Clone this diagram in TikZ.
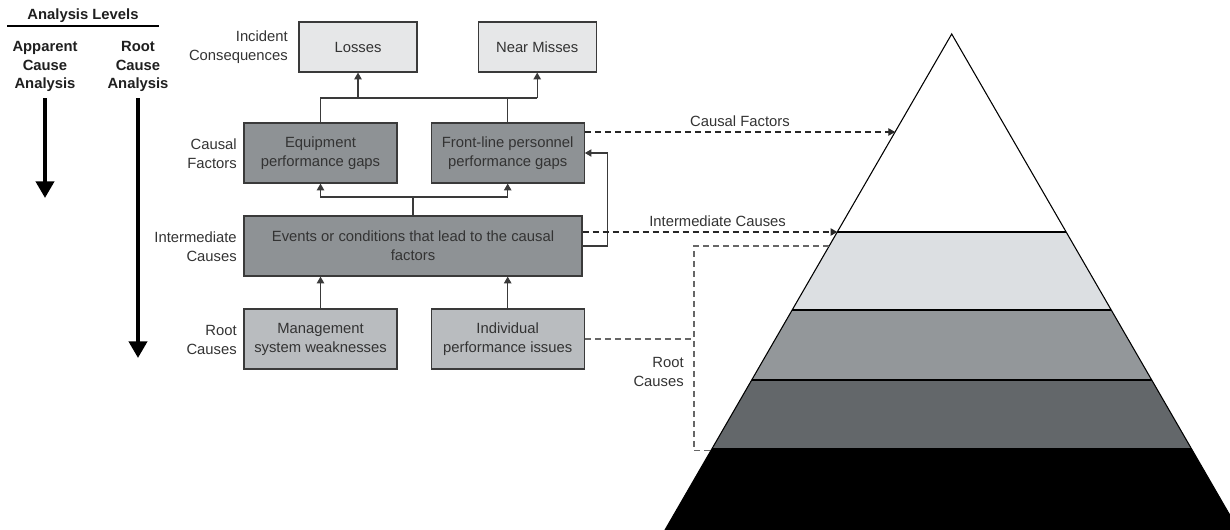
\documentclass[tikz,border=0pt]{standalone}
\usepackage{fontspec}
\setmainfont{Liberation Sans}
\usepackage{tikz}
\usetikzlibrary{arrows.meta, positioning, calc}

\definecolor{txtgray}{HTML}{333333}
\definecolor{linegray}{HTML}{3A3A3A}
\definecolor{conseqfill}{HTML}{E6E7E8}
\definecolor{causalfill}{HTML}{8E9295}
\definecolor{rootfill}{HTML}{B9BCBF}
\definecolor{bandlight}{HTML}{DCDFE2}
\definecolor{bandmid}{HTML}{93979A}
\definecolor{banddark}{HTML}{63676A}
\definecolor{dashgray}{HTML}{666666}

\begin{document}
\begin{tikzpicture}[
        x=0.75pt, y=-0.75pt,
        font=\fontsize{11.1pt}{14.2pt}\selectfont,
        >={Triangle[length=5pt, width=5.5pt]},
        conseq/.style={draw=linegray, line width=0.9pt, fill=conseqfill, text=txtgray, align=center, minimum width=88.5pt, minimum height=37.5pt, inner sep=2pt},
        causal/.style={conseq, fill=causalfill, minimum width=114.75pt, minimum height=45pt},
        rootbox/.style={causal, fill=rootfill},
        lvl/.style={text=txtgray, align=right, anchor=east, inner sep=0pt},
        head/.style={font=\fontsize{11.1pt}{13.9pt}\selectfont\bfseries, text=black!88, align=center},
        conn/.style={draw=linegray, line width=0.8pt},
        dashlink/.style={draw=black!85, line width=0.8pt, dash pattern=on 4.5pt off 3pt},
        rootlink/.style={dashlink, draw=dashgray},
        bigarrow/.style={line width=3pt, -{Triangle[length=12.5pt, width=13.5pt]}}
    ]
        \clip (0,0) rectangle (1230,529);

        % --- Analysis levels ---
        \node[head] (levels) at (83,16) {Analysis Levels};
        \draw[line width=0.8pt] (7,26) -- (159,26);
        \node[head] (aca) at (45,66.5) {Apparent\\Cause\\Analysis};
        \node[head] (rca) at (138,66.5) {Root\\Cause\\Analysis};
        \coordinate (acaEnd) at (45,198);
        \coordinate (rcaEnd) at (138,358);
        \draw[bigarrow, shorten <=1.5pt] (aca.south) -- (acaEnd);
        \draw[bigarrow, shorten <=1.5pt] (rca.south) -- (rcaEnd);

        % --- Level labels ---
        \node[lvl] (lvlconseq) at (288,47) {Incident\\Consequences};
        \node[lvl] (lvlcausal) at (237,154) {Causal\\Factors};
        \node[lvl] (lvlinter) at (237,247) {Intermediate\\Causes};
        \node[lvl] (lvlroot) at (237,340) {Root\\Causes};

        % --- Boxes ---
        \node[conseq] (losses) at (358,47) {Losses};
        \node[conseq, right=45pt of losses] (nearmiss) {Near Misses};
        \node[causal] (equip) at (320.5,153) {Equipment\\performance gaps};
        \node[causal, right=24.75pt of equip] (frontline) {Front-line personnel\\performance gaps};
        \node[causal, minimum width=253.5pt] (events) at (413,246) {Events or conditions that lead to the causal\\factors};
        \node[rootbox] (mgmt) at (320.5,339) {Management\\system weaknesses};
        \node[rootbox, right=24.75pt of mgmt] (indiv) {Individual\\performance issues};

        % --- Connectors ---
        \coordinate (topbar) at (0,98);
        \coordinate (midbar) at (0,197);
        \draw[conn] (equip.north) |- (nearmiss.south |- topbar);
        \draw[conn] (frontline.north) -- (frontline.north |- topbar);
        \draw[conn,->] (losses.south |- topbar) -- (losses.south);
        \draw[conn,->] (nearmiss.south |- topbar) -- (nearmiss.south);

        \draw[conn] (events.north) -- (events.north |- midbar);
        \draw[conn,->] (events.north |- midbar) -| (equip.south);
        \draw[conn,->] (events.north |- midbar) -| (frontline.south);
        \draw[conn,->] (mgmt.north) -- (mgmt.north |- events.south);
        \draw[conn,->] (indiv.north) -- (indiv.north |- events.south);
        \draw[conn,->] (events.east) -- ++(25,0) |- (frontline.east);

        % --- Pyramid ---
        \coordinate (apex) at (951.7,34);
        \coordinate (b1L) at (837.3,232);  \coordinate (b1R) at (1066.1,232);
        \coordinate (b2L) at (792.2,310);  \coordinate (b2R) at (1111.2,310);
        \coordinate (b3L) at (751.7,380);  \coordinate (b3R) at (1151.7,380);
        \coordinate (b4L) at (711.8,449);  \coordinate (b4R) at (1191.6,449);
        \coordinate (baseL) at (662.1,535); \coordinate (baseR) at (1241.3,535);
        \fill[bandlight] (b1L) -- (b1R) -- (b2R) -- (b2L) -- cycle;
        \fill[bandmid] (b2L) -- (b2R) -- (b3R) -- (b3L) -- cycle;
        \fill[banddark] (b3L) -- (b3R) -- (b4R) -- (b4L) -- cycle;
        \fill[black] (b4L) -- (b4R) -- (baseR) -- (baseL) -- cycle;
        \draw[line width=0.8pt] (baseL) -- (apex) -- (baseR);
        \draw[line width=0.8pt] (b1L) -- (b1R) (b2L) -- (b2R) (b3L) -- (b3R) (b4L) -- (b4R);

        % --- Links to the pyramid ---
        \coordinate (cfTip) at (895.1,132);
        \coordinate (icTip) at (837.3,232);
        \coordinate (rcTop) at (829.2,246);
        \coordinate (rcBot) at (710.9,450.5);
        \coordinate (rcTopL) at (694,246);
        \coordinate (rcBotL) at (694,450.5);
        \draw[dashlink,->] (frontline.east |- cfTip) -- node[midway, above, text=txtgray] (cflabel) {Causal Factors} (cfTip);
        \draw[dashlink,->] (events.east |- icTip) -- node[pos=0.53, above, text=txtgray] (iclabel) {Intermediate Causes} (icTip);
        \draw[rootlink] (rcTop) -- (rcTopL) -- (rcBotL) -- (rcBot);
        \draw[rootlink] (indiv.east) -- (indiv.east -| rcTopL);
        \node[lvl] (rclabel) at (684,372) {Root\\Causes};
    \end{tikzpicture}
\end{document}
